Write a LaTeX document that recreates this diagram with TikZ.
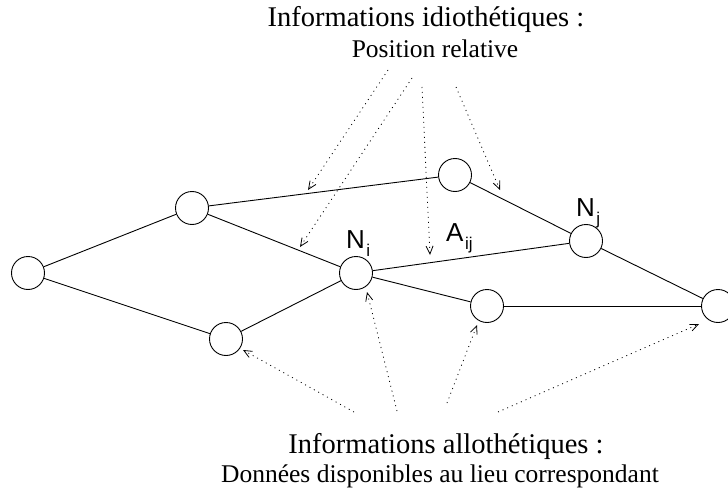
\documentclass[tikz,border=0pt]{standalone}
\usepackage{fontspec}
\setmainfont{Liberation Serif}
\newfontfamily\labelfont{Liberation Sans}
\usetikzlibrary{arrows.meta}
\newcommand{\indice}[1]{\hspace{1.5pt}\raisebox{-8pt}{\fontsize{17}{20}\selectfont #1}}
\tikzset{
        % Places of the map
        lieu/.style={circle, draw, line width=0.9pt, minimum size=33pt, inner sep=0pt},
        % Links between places
        arete/.style={line width=0.9pt},
        % Labels of places and links
        lieu_label/.style={font=\labelfont\fontsize{26}{30}\selectfont, inner sep=0pt, anchor=base west},
        % Dotted pointers
        info/.style={line width=0.8pt, dash pattern=on 1pt off 4pt, -{Straight Barb[length=8pt,width=7pt,line width=0.8pt]}},
        % Texts
        titre/.style={font=\fontsize{28.5}{34}\selectfont, inner sep=0pt, anchor=base},
        soustitre/.style={font=\fontsize{25.5}{30}\selectfont, inner sep=0pt, anchor=base}
}
\begin{document}
\begin{tikzpicture}[x=1pt, y=-1pt]
    \useasboundingbox (0,0) rectangle (728,492);
    % places
    \node[lieu] (n1) at (28,273) {};
    \node[lieu] (n2) at (192,208) {};
    \node[lieu] (n3) at (226,339) {};
    \node[lieu] (ni) at (356,273) {};
    \node[lieu] (nh) at (455,175) {};
    \node[lieu] (nj) at (586,241) {};
    \node[lieu] (nb) at (487,306) {};
    \node[lieu] (nr) at (718,306) {};
    % links
    \draw[arete] (n1) -- (n2);
    \draw[arete] (n1) -- (n3);
    \draw[arete] (n2) -- (nh);
    \draw[arete] (n2) -- (ni);
    \draw[arete] (n3) -- (ni);
    \draw[arete] (ni) -- (nj);
    \draw[arete] (ni) -- (nb);
    \draw[arete] (nh) -- (nj);
    \draw[arete] (nj) -- (nr);
    \draw[arete] (nb) -- (nr);
    % labels
    \node[lieu_label] (lni) at (346,248) {N\indice{i}};
    \node[lieu_label] (laij) at (446,241) {A\indice{ij}};
    \node[lieu_label] (lnj) at (576,216) {N\indice{j}};
    % texts
    \node[titre] (idio) at (426,27) {Informations idiothétiques :};
    \node[soustitre] (posrel) at (435,58) {Position relative};
    \node[titre] (allo) at (446,453) {Informations allothétiques :};
    \node[soustitre] (donnees) at (440,482) {Données disponibles au lieu correspondant};
    % idiothetic pointers
    \coordinate (h1) at (388,70);
    \coordinate (h2) at (412,78);
    \coordinate (h3) at (422,87);
    \coordinate (h4) at (456,87);
    \coordinate (e1) at (308,190);
    \coordinate (e2) at (300,247);
    \coordinate (e3) at (430,255);
    \coordinate (e4) at (500,190);
    \draw[info] (h1) -- (e1);
    \draw[info] (h2) -- (e2);
    \draw[info] (h3) -- (e3);
    \draw[info] (h4) -- (e4);
    % allothetic pointers
    \coordinate (b1) at (354,412);
    \coordinate (b2) at (397,411);
    \coordinate (b3) at (447,403);
    \coordinate (b4) at (498,412);
    \coordinate (f1) at (243,350);
    \coordinate (f2) at (367,292);
    \coordinate (f3) at (477,325);
    \coordinate (f4) at (699,324);
    \draw[info] (b1) -- (f1);
    \draw[info] (b2) -- (f2);
    \draw[info] (b3) -- (f3);
    \draw[info] (b4) -- (f4);
\end{tikzpicture}
\end{document}
